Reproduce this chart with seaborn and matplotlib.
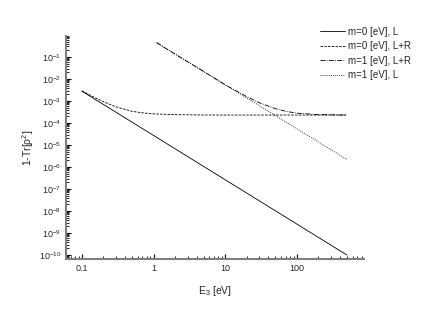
import numpy as np
import pandas as pd
import matplotlib
matplotlib.use("Agg")
import matplotlib.pyplot as plt
from matplotlib.ticker import LogLocator, LogFormatterSciNotation, NullFormatter
import seaborn as sns

# ---- data ----
e_m0_L = [0.1, 500]
y_m0_L = [2.8e-3, 1.0e-10]

e_m0_LR = [0.1, 0.15, 0.2, 0.3, 0.5, 0.7, 1, 2, 5, 10, 100, 500]
y_m0_LR = [2.9e-3, 1.45e-3, 9.3e-4, 5.4e-4, 3.4e-4, 2.9e-4, 2.6e-4, 2.4e-4, 2.31e-4, 2.3e-4, 2.3e-4, 2.3e-4]

e_m1_LR = [1.1, 2, 5, 10, 20, 30, 50, 70, 100, 200, 500]
y_m1_LR = [0.45, 0.135, 2.2e-2, 5.4e-3, 1.58e-3, 8.3e-4, 4.5e-4, 3.4e-4, 2.8e-4, 2.4e-4, 2.3e-4]

e_m1_L = [1.1, 500]
y_m1_L = [0.45, 2.2e-6]

labels = ["m=0 [eV], L", "m=0 [eV], L+R", "m=1 [eV], L+R", "m=1 [eV], L"]
series = [(e_m0_L, y_m0_L), (e_m0_LR, y_m0_LR), (e_m1_LR, y_m1_LR), (e_m1_L, y_m1_L)]
styles = ["-", (0, (3, 1.5)), (0, (6, 1.5, 1, 1.5)), (0, (1, 1.5))]

sns.set_style("ticks")
plt.rcParams['font.family'] = ['Liberation Sans', 'DejaVu Sans']
plt.rcParams['mathtext.fontset'] = 'custom'
plt.rcParams['mathtext.rm'] = 'Liberation Sans'
plt.rcParams['mathtext.it'] = 'Liberation Sans:italic'

fig = plt.figure(figsize=(4.47, 3.2), dpi=100)
ax = fig.add_axes([66 / 447, 1 - 259 / 320, (364 - 66) / 447, (259 - 36) / 320])

for (e, y), lab, ls in zip(series, labels, styles):
    df = pd.DataFrame({"E": e, "y": y})
    sns.lineplot(data=df, x="E", y="y", ax=ax, color="black", linewidth=0.6,
                 linestyle=ls, label=lab)

ax.set_xscale("log")
ax.set_yscale("log")
ax.set_xlim(0.06, 865)
ax.set_ylim(6.6e-11, 0.9)

ax.xaxis.set_major_locator(LogLocator(base=10, numticks=20))
ax.xaxis.set_minor_locator(LogLocator(base=10, subs=np.arange(2, 10), numticks=100))
ax.xaxis.set_minor_formatter(NullFormatter())
ax.xaxis.set_major_formatter(plt.FuncFormatter(lambda v, p: f"{v:g}"))
ax.yaxis.set_major_locator(LogLocator(base=10, numticks=20))
ax.yaxis.set_minor_locator(LogLocator(base=10, subs=np.arange(2, 10), numticks=100))
ax.yaxis.set_minor_formatter(NullFormatter())
ax.yaxis.set_major_formatter(LogFormatterSciNotation())

ax.tick_params(which="both", direction="in", color="black", labelsize=6.5)
ax.tick_params(which="major", length=3.5, width=0.8)
ax.tick_params(which="minor", length=2, width=0.6)

for s in ["top", "right"]:
    ax.spines[s].set_visible(False)
for s in ["left", "bottom"]:
    ax.spines[s].set_color("#808080")
    ax.spines[s].set_linewidth(1.5)

ax.set_xlabel("E$_3$ [eV]", fontsize=7.5, labelpad=8)
ax.set_ylabel("1-Tr[ρ$^2$]", fontsize=7.5, labelpad=2)

ax.legend(loc="upper left", bbox_to_anchor=(315 / 447, 1 - 22 / 320),
          bbox_transform=fig.transFigure, frameon=False, fontsize=7,
          handlelength=2.6, handletextpad=0.3, labelspacing=0.45, borderpad=0)

plt.savefig("out.png", dpi=100)
plt.close()
